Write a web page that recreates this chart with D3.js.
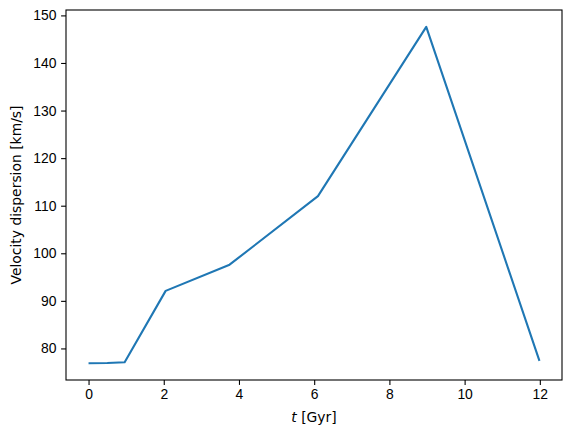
<!DOCTYPE html>
<html>
<head>
<meta charset="utf-8">
<script src="https://cdn.jsdelivr.net/npm/d3@7"></script>
<style>
  body { margin: 0; background: #fff; }
  svg { display: block; font-family: "DejaVu Sans", sans-serif; }
  .axis text { font-size: 13.9px; fill: #000; }
  .axis path, .axis line { stroke: #000; stroke-width: 1.1; }
</style>
</head>
<body>
<svg id="chart" width="571" height="437"></svg>
<script>
// time [Gyr] and velocity dispersion [km/s]
const times = [0, 0.5, 0.96, 2.05, 3.75, 6.1, 8.98, 11.99]
const sigmas = [76.9, 76.95, 77.1, 92.1, 97.6, 112.0, 147.6, 77.4]

const xTicks = [0, 2, 4, 6, 8, 10, 12]
const yTicks = [80, 90, 100, 110, 120, 130, 140, 150]

const margin = { top: 10, right: 9, bottom: 57, left: 66 }
const width = 571
const height = 437
const w = width - margin.left - margin.right
const h = height - margin.top - margin.bottom

const svg = d3.select('#chart')
const g = svg.append('g').attr('transform', `translate(${margin.left},${margin.top})`)

// matplotlib-style 5% padding around the data
const xExt = d3.extent(times)
const yExt = d3.extent(sigmas)
const xPad = (xExt[1] - xExt[0]) * 0.05
const yPad = (yExt[1] - yExt[0]) * 0.05

const x = d3.scaleLinear().domain([xExt[0] - xPad, xExt[1] + xPad]).range([0, w])
const y = d3.scaleLinear().domain([yExt[0] - yPad, yExt[1] + yPad]).range([h, 0])

const data = times.map((t, i) => ({ t, s: sigmas[i] }))

g.append('path')
  .datum(data)
  .attr('fill', 'none')
  .attr('stroke', '#1f77b4')
  .attr('stroke-width', 2.1)
  .attr('stroke-linejoin', 'round')
  .attr('d', d3.line().x(d => x(d.t)).y(d => y(d.s)))

g.append('g')
  .attr('class', 'axis')
  .attr('transform', `translate(0,${h})`)
  .call(d3.axisBottom(x).tickValues(xTicks).tickSize(4.9).tickPadding(4.7).tickSizeOuter(0))
  .call(a => a.select('.domain').remove())

g.append('g')
  .attr('class', 'axis')
  .call(d3.axisLeft(y).tickValues(yTicks).tickSize(4.9).tickPadding(4.7).tickSizeOuter(0))
  .call(a => a.select('.domain').remove())

// frame
g.append('rect')
  .attr('width', w)
  .attr('height', h)
  .attr('fill', 'none')
  .attr('stroke', '#000')
  .attr('stroke-width', 1.1)

// axis labels
const xLabel = svg.append('text')
  .attr('x', margin.left + w / 2)
  .attr('y', 422)
  .attr('text-anchor', 'middle')
  .style('font-size', '13.9px')
xLabel.append('tspan').attr('font-style', 'italic').text('t')
xLabel.append('tspan').text(' [Gyr]')

svg.append('text')
  .attr('transform', `translate(21,${margin.top + h / 2}) rotate(-90)`)
  .attr('text-anchor', 'middle')
  .style('font-size', '13.9px')
  .text('Velocity dispersion [km/s]')
</script>
</body>
</html>
